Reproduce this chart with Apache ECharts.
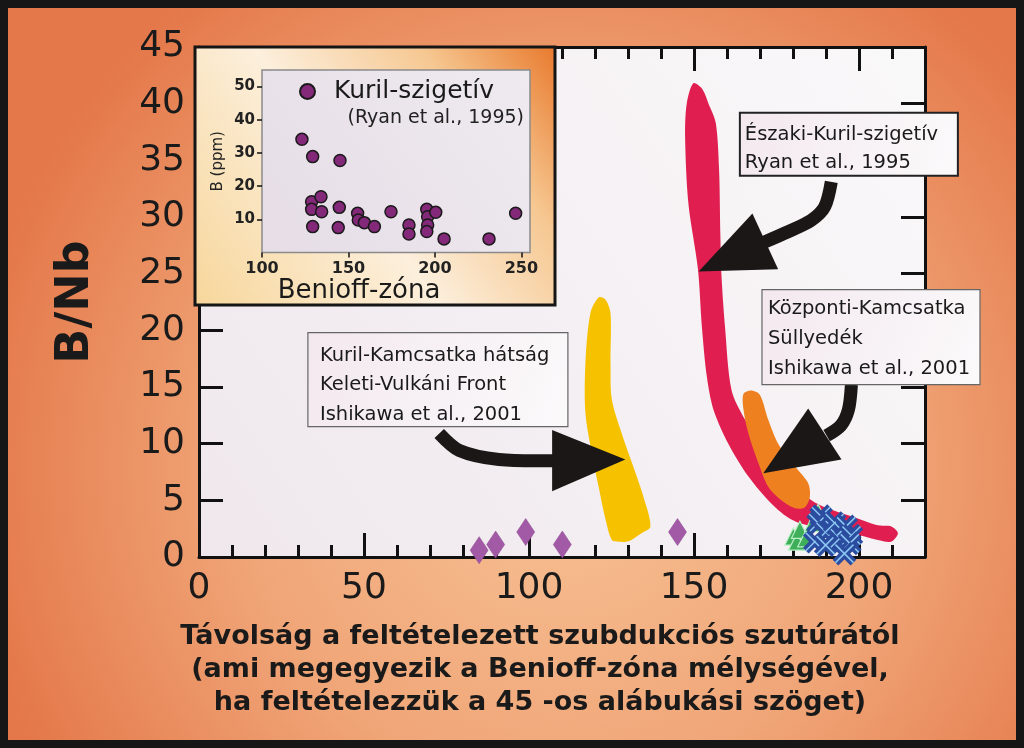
<!DOCTYPE html>
<html><head><meta charset="utf-8">
<script src="https://cdn.jsdelivr.net/npm/echarts@6/dist/echarts.min.js"></script>
<style>html,body{margin:0;padding:0;width:1024px;height:748px;overflow:hidden;background:#e8854f}#c{width:1024px;height:748px}</style>
</head><body><div id="c"></div><script>
// ---------- DATA ----------
const mainXTickStep = 50;
const mainXMinorStep = 10;
const mainYTickStep = 5;
// purple diamonds near the axis
const diamondPts = [[84.9,0.6],[89.9,1.1],[99.0,2.2],[110.1,1.1],[145.0,2.2]];
// green triangles
const trianglePts = [[180.1,1.8],[181.2,1.35],[182.1,2.4],[184.0,1.65],[186.1,3.0],[187.6,3.9]];
// blue crossed markers
const crossPts = [[188.5,3.6],[187.6,3.0],[186.6,1.35],[189.9,2.2],[189.9,1.05],[192.6,3.0],[194.2,1.65],[196.1,2.7],[197.7,1.9],[197.2,1.2],[195.6,0.3]];
// Yellow field: Kuril-Kamcsatka back arc / Eastern Volcanic Front (outline)
const yellowRegion = [[121.1,22.9],[123.2,22.7],[124.7,21.5],[124.7,17.1],[125.1,13.9],[128.1,10.9],[131.7,7.9],[134.7,5.3],[136.8,2.7],[134.1,2.1],[130.2,1.4],[127.2,1.35],[125.1,1.5],[123.2,3.3],[121.1,6.2],[119.0,9.2],[117.1,12.7],[117.1,17.1],[118.6,21.5]];
// Orange field: Central Kamchatka Depression (outline)
const orangeRegion = [[165.0,14.4],[167.5,14.7],[170.0,14.3],[172.5,12.1],[175.5,10.0],[180.6,8.0],[184.6,6.5],[185.1,5.3],[183.6,4.4],[180.6,4.3],[176.5,5.0],[172.5,6.2],[169.5,8.3],[166.5,10.9],[165.0,13.0]];
// Red field: Northern Kuril arc (outline)
const redRegion = [[149.8,41.8],[152.5,41.3],[154.4,40.0],[156.6,38.3],[157.6,34.2],[158.0,28.3],[158.3,25.0],[159.4,20.3],[161.4,14.7],[165.5,12.1],[171.5,9.2],[178.5,6.8],[185.6,5.0],[189.6,4.4],[197.7,3.6],[205.7,2.8],[209.8,2.7],[211.8,2.1],[209.7,1.35],[205.7,1.5],[197.7,2.1],[185.6,2.7],[179.5,3.3],[173.5,4.7],[166.5,7.1],[160.4,10.0],[155.9,13.0],[153.9,15.9],[152.4,20.3],[151.2,25.4],[148.3,31.2],[147.3,37.1],[147.8,40.0]];
// Inset: Kuril arc, B (ppm) vs Benioff-zone depth
const kurilDepth = [123.1,129.3,145.1,128.7,134.1,128.7,134.5,129.3,144.7,144.1,155.3,155.7,159.2,165.0,174.6,185.0,185.0,195.3,195.8,195.8,195.3,200.5,205.3,231.3,246.7];
const kurilB     = [34.1,28.9,27.7,15.3,16.8,13.0,12.3,7.8,13.6,7.5,11.8,9.8,9.0,7.8,12.3,8.3,5.6,13.0,10.8,8.3,6.3,12.1,4.1,4.1,11.8];
// Annotation texts and anchors (data coords of box top-left)
const noteTexts = [
  ['Északi-Kuril-szigetív','Ryan et al., 1995'],
  ['Központi-Kamcsatka','Süllyedék','Ishikawa et al., 2001'],
  ['Kuril-Kamcsatka hátság','Keleti-Vulkáni Front','Ishikawa et al., 2001']
];
const noteAnchors = [[163.9,39.2],[170.6,23.6],[33.0,19.8]];
// Arrows (data coords)
const arrowShafts = [
  [[191.6,33.1],[189.6,30.9],[185.5,29.7],[178.5,28.7],[171.4,27.8]],
  [[197.7,15.2],[196.8,13.0],[194.5,11.6],[190.2,10.7]],
  [[72.8,10.9],[78.9,9.4],[90.9,8.6],[108.0,8.5]]
];
const arrowHeads = [
  [[151.4,25.2],[167.7,30.3],[175.5,25.4]],
  [[171.0,7.4],[184.6,13.1],[194.7,8.6]],
  [[129.2,8.6],[107.0,11.2],[107.0,5.8]]
];
const xTitleLines = ['Távolság a feltételezett szubdukciós szutúrától','(ami megegyezik a Benioff-zóna mélységével,','ha feltételezzük a 45 -os alábukási szöget)'];

// ---------- CHART ----------
const FF = '"DejaVu Sans", sans-serif';
const chart = echarts.init(document.getElementById('c'), null, {renderer:'canvas'});

function region(name, pts, color, z){
  return {type:'custom', name, xAxisIndex:0, yAxisIndex:0, z, silent:true, clip:false,
    data: pts.map(p=>[p[0],p[1]]), encode:{x:0,y:1},
    renderItem(params, api){
      if (params.dataIndex !== 0) return null;
      return {type:'polygon', shape:{points: pts.map(p=>api.coord(p)), smooth:0.3}, style:{fill:color}};
    }};
}

const boxSizes = [[218,63],[218,95],[260,94]];
const boxLineOffsets = [[22,50],[19,49,79],[23,52,82]];
const boxPadX = [5,6,12];
const NOTE_FONT = '19.5px "DejaVu Sans"';

const mainGrid = {left:199, top:47, width:726, height:510};
const lineBlack = {color:'#111', width:3};
const majorTick = {show:true, inside:true, length:24, lineStyle:lineBlack};
const minorTick = {show:true, inside:true, length:12, lineStyle:lineBlack};

const option = {
  backgroundColor: {type:'radial', x:0.55, y:0.62, r:0.8, colorStops:[{offset:0,color:'#f7c295'},{offset:0.55,color:'#f0a577'},{offset:1,color:'#e4784a'}]},
  animation:false,
  textStyle:{fontFamily:FF},
  grid:[
    Object.assign({show:true, borderWidth:0,
      backgroundColor:{type:'linear', x:0, y:1, x2:1, y2:0, colorStops:[{offset:0,color:'#efe7ec'},{offset:1,color:'#faf9fa'}]}}, mainGrid),
    {left:262, top:70, width:268, height:182.5, show:true, z:60, borderColor:'#8a8a8a', borderWidth:1.5,
      backgroundColor:{type:'linear', x:0, y:1, x2:1, y2:0, colorStops:[{offset:0,color:'#e6dde6'},{offset:1,color:'#efeaf0'}]}},
    Object.assign({show:false}, mainGrid)
  ],
  legend:{data:['Kuril-szigetív'], left:294, top:74, z:80, icon:'circle', itemWidth:15, itemHeight:15,
    textStyle:{fontSize:25, color:'#1a1a1a', fontFamily:FF, padding:[0,0,0,14]}},
  xAxis:[
    {type:'value', gridIndex:0, position:'bottom', min:0, max:220, interval:mainXTickStep, splitLine:{show:false},
      axisLine:{show:true, onZero:false, lineStyle:lineBlack}, axisTick:majorTick,
      axisLabel:{show:true, fontSize:36, color:'#1a1a1a', margin:14, showMaxLabel:false, fontFamily:FF}},
    {type:'value', gridIndex:0, position:'top', min:0, max:220, interval:mainXTickStep, splitLine:{show:false},
      axisLine:{show:true, onZero:false, lineStyle:lineBlack}, axisTick:majorTick, axisLabel:{show:false}},
    {type:'value', gridIndex:1, min:100, max:255, interval:50, z:62,
      axisLine:{show:false}, splitLine:{show:false},
      axisTick:{show:true, length:5, lineStyle:{color:'#111', width:1.5}},
      axisLabel:{fontSize:16, fontWeight:'bold', color:'#222', margin:8, showMaxLabel:false, fontFamily:FF}},
    {type:'value', gridIndex:2, position:'bottom', min:0, max:220, interval:mainXMinorStep, splitLine:{show:false},
      axisLine:{show:false}, axisTick:minorTick, axisLabel:{show:false}},
    {type:'value', gridIndex:2, position:'top', min:0, max:220, interval:mainXMinorStep, splitLine:{show:false},
      axisLine:{show:false}, axisTick:minorTick, axisLabel:{show:false}}
  ],
  yAxis:[
    {type:'value', gridIndex:0, position:'left', min:0, max:45, interval:mainYTickStep, splitLine:{show:false},
      axisLine:{show:true, onZero:false, lineStyle:lineBlack}, axisTick:majorTick,
      axisLabel:{show:true, fontSize:36, color:'#1a1a1a', margin:14, fontFamily:FF},
      name:'B/Nb', nameLocation:'middle', nameGap:100, nameTextStyle:{fontSize:46, fontWeight:'bold', color:'#1a1a1a', fontFamily:FF}},
    {type:'value', gridIndex:0, position:'right', min:0, max:45, interval:mainYTickStep, splitLine:{show:false},
      axisLine:{show:true, onZero:false, lineStyle:lineBlack}, axisTick:majorTick, axisLabel:{show:false}},
    {type:'value', gridIndex:1, min:0, max:55, interval:10, z:62,
      axisLine:{show:false}, splitLine:{show:false},
      axisTick:{show:true, length:5, lineStyle:{color:'#111', width:1.5}},
      axisLabel:{fontSize:15, fontWeight:'bold', color:'#222', margin:7, showMinLabel:false, showMaxLabel:false, fontFamily:FF},
      name:'B (ppm)', nameLocation:'middle', nameGap:36, nameTextStyle:{fontSize:15, color:'#222', fontFamily:FF}},
    {type:'value', gridIndex:2, min:0, max:45, show:false}
  ],
  graphic:[
    {type:'rect', z:50, shape:{x:195, y:47, width:360, height:258},
      style:{fill:{type:'linear', x:0, y:1, x2:1, y2:0, colorStops:[{offset:0,color:'#f7d69a'},{offset:0.45,color:'#fcefdc'},{offset:0.75,color:'#f6c892'},{offset:1,color:'#e8782c'}]}, stroke:'#151515', lineWidth:3}},
    {type:'text', z:80, style:{text:'(Ryan et al., 1995)', x:524, y:118, align:'right', verticalAlign:'middle', font:'19px "DejaVu Sans"', fill:'#222'}},
    {type:'text', z:80, style:{text:'Benioff-zóna', x:359, y:291, align:'center', verticalAlign:'middle', font:'26px "DejaVu Sans"', fill:'#1a1a1a'}},
    {type:'text', z:80, style:{text:xTitleLines.join('\n'), x:540, y:620, align:'center', verticalAlign:'top', lineHeight:33, font:'bold 27px "DejaVu Sans"', fill:'#1a1a1a'}},
    {type:'rect', z:100, silent:true, shape:{x:0, y:0, width:1024, height:748}, style:{fill:null, stroke:'#161616', lineWidth:16}}
  ],
  series:[
    region('Északi-Kuril-szigetív', redRegion, '#e01f50', 3),
    region('Központi-Kamcsatka', orangeRegion, '#ee8020', 4),
    region('Kuril-Kamcsatka hátság', yellowRegion, '#f6c200', 4),
    {type:'scatter', name:'diamonds', xAxisIndex:0, yAxisIndex:0, z:5, symbol:'diamond', symbolSize:[18,27],
      itemStyle:{color:'#a25aa6', borderColor:'#8a4590', borderWidth:0.5, opacity:1}, data:diamondPts},
    {type:'scatter', name:'triangles', xAxisIndex:0, yAxisIndex:0, z:6, symbol:'triangle', symbolSize:[17,17],
      itemStyle:{color:'#3fae5a', borderColor:'#b9eec6', borderWidth:1.2, opacity:1}, data:trianglePts},
    {type:'custom', name:'crosses', xAxisIndex:0, yAxisIndex:0, z:7, clip:false, data:crossPts, encode:{x:0,y:1},
      renderItem(params, api){
        const c = api.coord([api.value(0), api.value(1)]);
        const s = 9;
        const mk = (col, w) => [
          {type:'line', shape:{x1:c[0]-s,y1:c[1]-s,x2:c[0]+s,y2:c[1]+s}, style:{stroke:col, lineWidth:w}},
          {type:'line', shape:{x1:c[0]-s,y1:c[1]+s,x2:c[0]+s,y2:c[1]-s}, style:{stroke:col, lineWidth:w}}];
        return {type:'group', children: mk('#2b4c9f', 8).concat(mk('#8cc6f2', 1.5))};
      }},
    {type:'custom', name:'arrows', xAxisIndex:0, yAxisIndex:0, z:8, clip:false,
      data: arrowHeads.map((h,i)=>[h[0][0], h[0][1], i]), encode:{x:0,y:1},
      renderItem(params, api){
        const i = api.value(2);
        return {type:'group', children:[
          {type:'polyline', shape:{points: arrowShafts[i].map(p=>api.coord(p)), smooth:0.3}, style:{stroke:'#1b1717', lineWidth:13, fill:null, lineCap:'butt'}},
          {type:'polygon', shape:{points: arrowHeads[i].map(p=>api.coord(p))}, style:{fill:'#1b1717'}}
        ]};
      }},
    {type:'custom', name:'notes', xAxisIndex:0, yAxisIndex:0, z:9, clip:false,
      data: noteAnchors.map((a,i)=>[a[0], a[1], i]), encode:{x:0,y:1},
      renderItem(params, api){
        const i = api.value(2);
        const p = api.coord([api.value(0), api.value(1)]);
        const [w,h] = boxSizes[i];
        const kids = [{type:'rect', shape:{x:p[0], y:p[1], width:w, height:h},
          style:{fill:{type:'linear', x:0, y:0, x2:1, y2:1, colorStops:[{offset:0,color:'#f3e8ee'},{offset:1,color:'#fbfafb'}]}, stroke: i===0?'#222':'#666', lineWidth: i===0?2:1.2}}];
        noteTexts[i].forEach((t,k)=>kids.push({type:'text', style:{text:t, x:p[0]+boxPadX[i], y:p[1]+boxLineOffsets[i][k], verticalAlign:'middle', align:'left', font:NOTE_FONT, fill:'#1a1a1a'}}));
        return {type:'group', children:kids};
      }},
    {type:'scatter', name:'Kuril-szigetív', xAxisIndex:2, yAxisIndex:2, z:70, symbol:'circle', symbolSize:12,
      itemStyle:{color:'#84287a', borderColor:'#1a1a1a', borderWidth:1.5, opacity:1},
      data: kurilDepth.map((d,i)=>[d, kurilB[i]])}
  ]
};
chart.setOption(option);
</script></body></html>
